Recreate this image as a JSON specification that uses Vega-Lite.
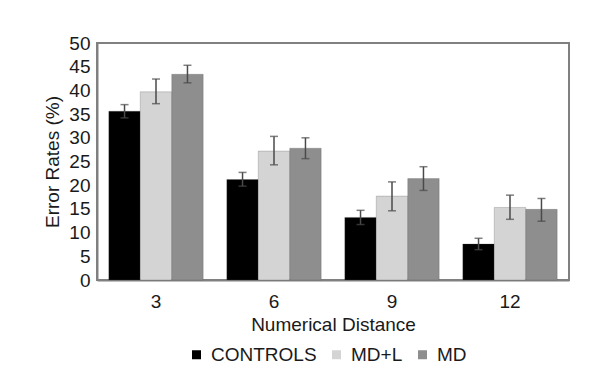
{
  "$schema": "https://vega.github.io/schema/vega-lite/v6.json",
  "width": 472,
  "height": 237,
  "autosize": {"type": "none"},
  "padding": {"left": 97, "top": 43, "right": 24, "bottom": 110},
  "background": "white",
  "config": {
    "font": "Liberation Sans",
    "view": {"stroke": "#808080", "strokeWidth": 2},
    "axis": {"labelFont": "Liberation Sans", "titleFont": "Liberation Sans", "labelColor": "#1a1a1a", "titleColor": "#1a1a1a", "labelFontSize": 19, "titleFontSize": 19, "titleFontWeight": "normal", "domainColor": "#808080", "domainWidth": 2, "ticks": false, "grid": false, "labelOverlap": false},
    "axisY": {"labelPadding": 7, "titlePadding": 6, "labelOverlap": false},
    "axisQuantitative": {"labelOverlap": false},
    "legend": {"labelFont": "Liberation Sans", "labelFontSize": 19, "labelColor": "#1a1a1a"}
  },
  "data": {
    "values": [
      {"distance": "3", "group": "CONTROLS", "value": 35.6, "lo": 34.2, "hi": 37.0},
      {"distance": "3", "group": "MD+L", "value": 39.7, "lo": 37.2, "hi": 42.4},
      {"distance": "3", "group": "MD", "value": 43.4, "lo": 41.6, "hi": 45.3},
      {"distance": "6", "group": "CONTROLS", "value": 21.2, "lo": 19.8, "hi": 22.7},
      {"distance": "6", "group": "MD+L", "value": 27.2, "lo": 24.3, "hi": 30.3},
      {"distance": "6", "group": "MD", "value": 27.8, "lo": 25.6, "hi": 30.0},
      {"distance": "9", "group": "CONTROLS", "value": 13.2, "lo": 11.7, "hi": 14.7},
      {"distance": "9", "group": "MD+L", "value": 17.7, "lo": 14.6, "hi": 20.7},
      {"distance": "9", "group": "MD", "value": 21.4, "lo": 18.9, "hi": 23.9},
      {"distance": "12", "group": "CONTROLS", "value": 7.6, "lo": 6.4, "hi": 8.8},
      {"distance": "12", "group": "MD+L", "value": 15.3, "lo": 12.8, "hi": 17.9},
      {"distance": "12", "group": "MD", "value": 14.9, "lo": 12.4, "hi": 17.2}
    ]
  },
  "encoding": {
    "x": {"field": "distance", "type": "ordinal", "sort": ["3", "6", "9", "12"], "scale": {"paddingInner": 0.2, "paddingOuter": 0.1}, "axis": {"labelAngle": 0, "title": "Numerical Distance", "labelPadding": 12, "titlePadding": 4}},
    "xOffset": {"field": "group", "type": "nominal", "sort": ["CONTROLS", "MD+L", "MD"], "scale": {"paddingInner": 0, "paddingOuter": 0}}
  },
  "layer": [
    {
      "mark": {"type": "bar", "stroke": "#555", "strokeWidth": 0.5, "strokeOpacity": 0.5},
      "encoding": {
        "y": {"field": "value", "type": "quantitative", "scale": {"domain": [0, 50], "nice": false}, "axis": {"values": [0,5,10,15,20,25,30,35,40,45,50], "labelOverlap": false, "title": "Error Rates (%)"}},
        "color": {"field": "group", "type": "nominal", "sort": ["CONTROLS", "MD+L", "MD"], "scale": {"domain": ["CONTROLS", "MD+L", "MD"], "range": ["#000000", "#d4d4d4", "#8e8e8f"]}, "legend": {"title": null, "orient": "none", "legendX": 90, "legendY": 302, "direction": "horizontal", "symbolType": "square", "symbolSize": 81, "symbolStrokeWidth": 0, "symbolOpacity": 1, "columnPadding": 10, "labelOffset": 5}}
      }
    },
    {
      "mark": {"type": "rule", "color": "#4a4a4a", "strokeWidth": 1.5},
      "encoding": {
        "y": {"field": "lo", "type": "quantitative", "axis": {"values": [0,5,10,15,20,25,30,35,40,45,50], "labelOverlap": false, "title": "Error Rates (%)"}},
        "y2": {"field": "hi"}
      }
    },
    {
      "mark": {"type": "tick", "color": "#4a4a4a", "size": 8, "thickness": 1.5},
      "encoding": {"y": {"field": "lo", "type": "quantitative", "axis": {"values": [0,5,10,15,20,25,30,35,40,45,50], "labelOverlap": false, "title": "Error Rates (%)"}}}
    },
    {
      "mark": {"type": "tick", "color": "#4a4a4a", "size": 8, "thickness": 1.5},
      "encoding": {"y": {"field": "hi", "type": "quantitative", "axis": {"values": [0,5,10,15,20,25,30,35,40,45,50], "labelOverlap": false, "title": "Error Rates (%)"}}}
    }
  ]
}
